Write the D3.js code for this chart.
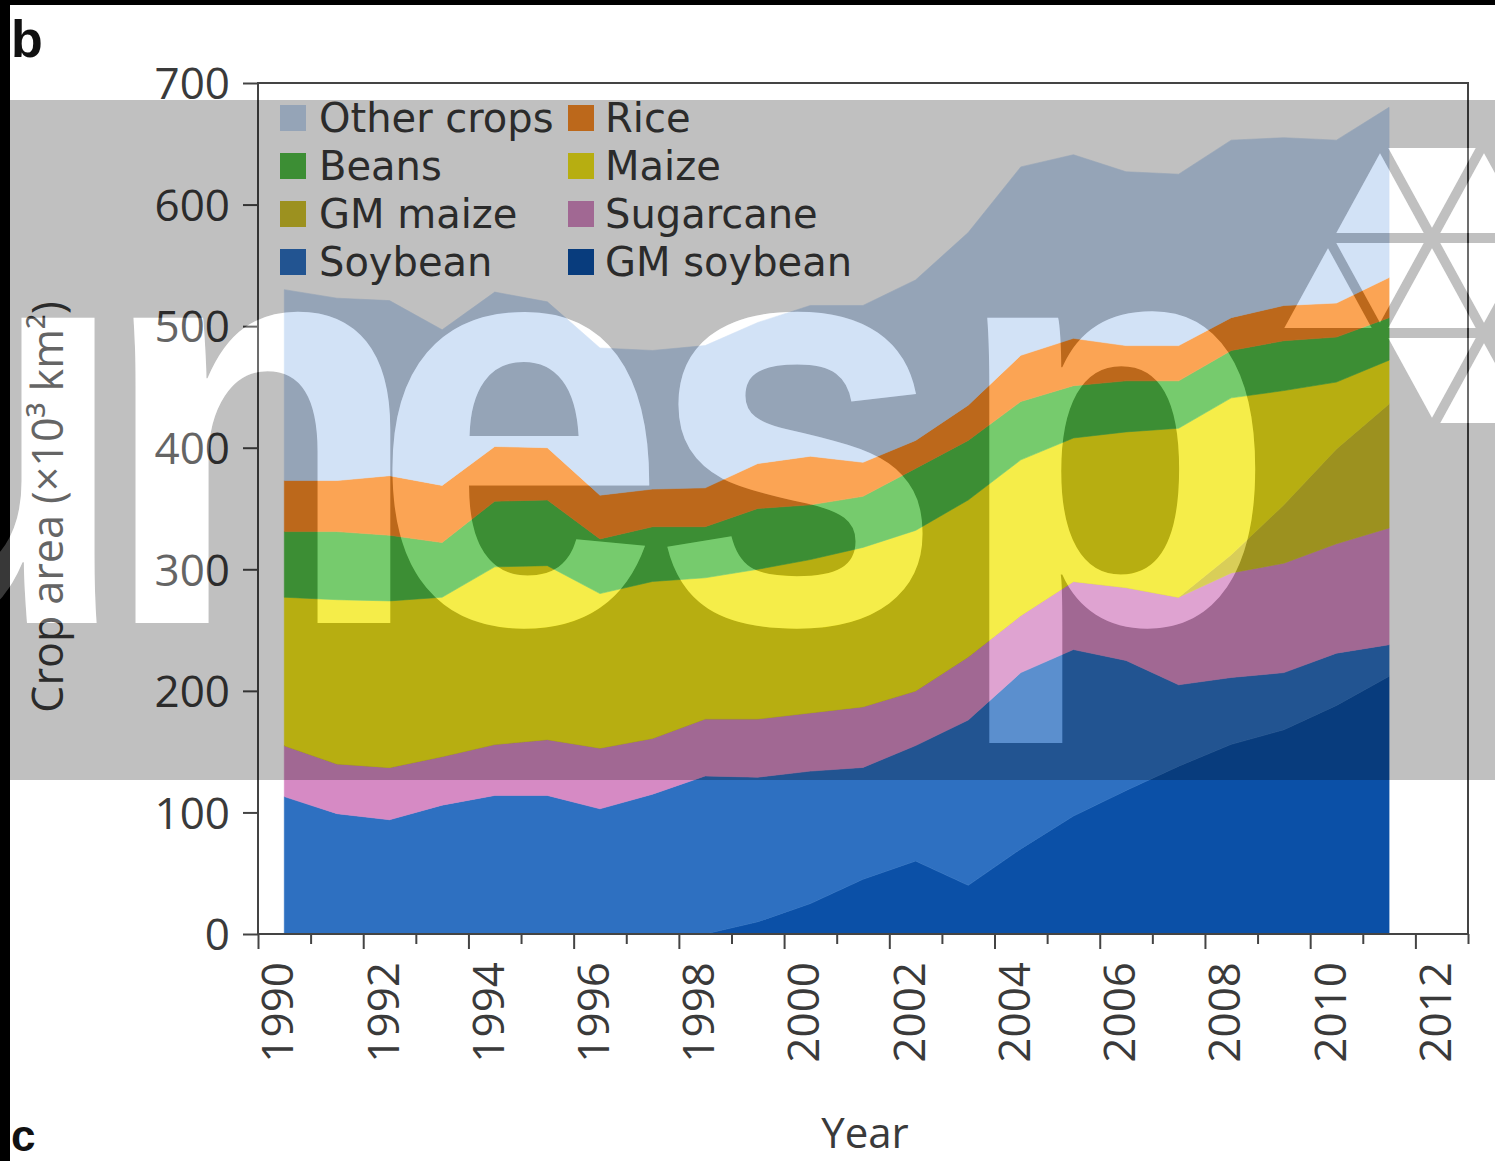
<!DOCTYPE html>
<html>
<head>
<meta charset="utf-8">
<script src="https://cdn.jsdelivr.net/npm/d3@7"></script>
<style>
html, body { margin: 0; padding: 0; background: #fff; }
svg { display: block; }
</style>
</head>
<body>
<svg id="chart" width="1495" height="1161"></svg>
<script>
// ---------------- data (x10^3 km^2) ----------------
const years = [1990,1991,1992,1993,1994,1995,1996,1997,1998,1999,2000,2001,2002,2003,2004,2005,2006,2007,2008,2009,2010,2011];
const gmSoybean  = [0,0,0,0,0,0,0,0,0,10,25,45,60,40,70,97,118,138,156,168,188,212];
const soybean    = [113,99,94,106,114,114,103,115,130,119,109,92,95,136,145,137,107,67,55,47,43,26];
const sugarcane  = [42,41,43,40,42,46,50,46,47,48,48,50,45,52,47,56,60,72,86,90,90,96];
const gmMaize    = [0,0,0,0,0,0,0,0,0,0,0,0,0,0,0,0,0,0,15,48,78,102];
const maize      = [122,135,137,131,146,143,127,129,116,123,126,131,132,129,128,118,128,139,129,94,55,36];
const beans      = [54,56,54,45,54,54,45,45,42,50,45,42,51,49,48,43,42,39,39,41,37,35];
const rice       = [42,42,49,47,45,43,36,31,32,37,40,28,23,29,38,39,29,29,27,29,28,33];
const otherCrops = [157,150,144,128,127,120,121,114,117,116,124,129,132,142,155,151,143,141,146,138,134,140];

const stackKeys   = ["GM soybean","Soybean","Sugarcane","GM maize","Maize","Beans","Rice","Other crops"];
const stackValues = [gmSoybean, soybean, sugarcane, gmMaize, maize, beans, rice, otherCrops];
const stackColors = ["#0b50a7","#2e70c1","#d68ac4","#cfc12a","#f3e817","#50bd45","#fa8b25","#c6daf4"];
const legendCol1  = ["Other crops","Beans","GM maize","Soybean"];
const legendCol2  = ["Rice","Maize","Sugarcane","GM soybean"];
const yTickValues = [0,100,200,300,400,500,600,700];
const xTickValues = d3.range(1990, 2014);
const xLabelYears = d3.range(1990, 2013, 2);
const watermarkLetters = ["u","n","e","s","p"];

// ---------------- setup ----------------
const W = 1495, H = 1161;
const svg = d3.select("#chart");
const FONT = "'Open Sans', 'DejaVu Sans', sans-serif";
const LEGEND_FONT = "'DejaVu Sans', 'Open Sans', sans-serif";
const TXT = "#3a3a3a";
const x = d3.scaleLinear().domain([1990, 2013]).range([258, 1468]);
const y = d3.scaleLinear().domain([0, 700]).range([934, 83]);
const color = d3.scaleOrdinal().domain(stackKeys).range(stackColors);

const rows = years.map((yr, i) => {
  const r = { year: yr };
  stackKeys.forEach((k, j) => r[k] = stackValues[j][i]);
  return r;
});
const stacked = d3.stack().keys(stackKeys)(rows);

// ---------------- areas ----------------
const area = d3.area()
  .x(d => x(d.data.year + 0.5))
  .y0(d => y(d[0]))
  .y1(d => y(d[1]));

svg.append("g").selectAll("path")
  .data(stacked).join("path")
  .attr("d", area)
  .attr("fill", d => color(d.key))
  .attr("stroke", d => color(d.key))
  .attr("stroke-width", 0.6);

// ---------------- axes ----------------
const xAxis = svg.append("g")
  .attr("transform", `translate(0,${y(0)})`)
  .call(d3.axisBottom(x).tickValues(xTickValues).tickSize(15).tickFormat(""));
xAxis.select(".domain").remove();
xAxis.selectAll(".tick line")
  .attr("stroke", "#444").attr("stroke-width", 2)
  .attr("y2", d => (d % 2 === 0 && d < 2013) ? 15 : 10);

svg.append("g").selectAll("text")
  .data(xLabelYears).join("text")
  .attr("transform", d => `translate(${x(d) + 20},962) rotate(-90)`)
  .attr("text-anchor", "end")
  .attr("dy", "0.35em")
  .attr("font-family", FONT).attr("font-size", 44).attr("fill", TXT)
  .text(d => d);

const yAxis = svg.append("g")
  .attr("transform", `translate(${x(1990)},0)`)
  .call(d3.axisLeft(y).tickValues(yTickValues).tickSize(15).tickPadding(13));
yAxis.select(".domain").remove();
yAxis.selectAll(".tick line").attr("stroke", "#444").attr("stroke-width", 2);
yAxis.selectAll(".tick text")
  .attr("font-family", FONT).attr("font-size", 44).attr("fill", TXT)
  .attr("dy", "0.36em");

// frame
svg.append("rect")
  .attr("x", x(1990)).attr("y", y(700))
  .attr("width", x(2013) - x(1990)).attr("height", y(0) - y(700))
  .attr("fill", "none").attr("stroke", "#444").attr("stroke-width", 2);

// axis titles
svg.append("text")
  .attr("x", 865).attr("y", 1148)
  .attr("text-anchor", "middle")
  .attr("font-family", FONT).attr("font-size", 42).attr("fill", TXT)
  .text("Year");
svg.append("text")
  .attr("transform", "translate(63,507) rotate(-90)")
  .attr("text-anchor", "middle")
  .attr("font-family", FONT).attr("font-size", 43).attr("fill", TXT)
  .text("Crop area (×10³ km²)");

// ---------------- legend ----------------
const legendRows = [132, 180, 228, 276];
function legendColumn(names, sx, tx) {
  const g = svg.append("g");
  names.forEach((n, i) => {
    g.append("rect")
      .attr("x", sx).attr("y", legendRows[i] - 27)
      .attr("width", 26).attr("height", 26)
      .attr("fill", color(n));
    g.append("text")
      .attr("x", tx).attr("y", legendRows[i])
      .attr("font-family", LEGEND_FONT).attr("font-size", 40).attr("fill", TXT)
      .text(n);
  });
}
legendColumn(legendCol1, 280, 319);
legendColumn(legendCol2, 568, 605);

// ---------------- page frame + panel letters ----------------
svg.append("rect").attr("x", 0).attr("y", 0).attr("width", W).attr("height", 5).attr("fill", "#000");
svg.append("rect").attr("x", 0).attr("y", 0).attr("width", 10).attr("height", H).attr("fill", "#000");
svg.append("text").attr("x", 11).attr("y", 57)
  .attr("font-family", "'Liberation Sans', Arial, sans-serif").attr("font-weight", "bold")
  .attr("font-size", 52).attr("fill", "#111").text("b");
svg.append("text").attr("x", 11).attr("y", 1151)
  .attr("font-family", "'Liberation Sans', Arial, sans-serif").attr("font-weight", "bold")
  .attr("font-size", 44).attr("fill", "#111").text("c");

// ---------------- watermark overlay (grey band + "unesp" mark) ----------------
const letterX = [-210, 107, 404, 705, 1035];
const triBase = [
  [[1380,143],[1328,238],[1432,238]],
  [[1380,143],[1484,143],[1432,238]],
  [[1484,143],[1432,238],[1536,238]],
  [[1328,238],[1276,333],[1380,333]],
  [[1328,238],[1432,238],[1380,333]],
  [[1432,238],[1380,333],[1484,333]],
  [[1432,238],[1536,238],[1484,333]],
  [[1380,333],[1484,333],[1432,428]],
  [[1484,333],[1432,428],[1536,428]]
];
const tris = triBase.map(t => {
  const cx = d3.mean(t, p => p[0]), cy = d3.mean(t, p => p[1]);
  return t.map(p => [cx + (p[0] - cx) * 0.84, cy + (p[1] - cy) * 0.84]);
});

const defs = svg.append("defs");
// one shared definition of the mark, reused for the band hole and the white overlay
const mark = defs.append("g").attr("id", "wmark");
const lg = mark.append("g").attr("transform", "scale(0.92,1)");
watermarkLetters.forEach((ch, i) => {
  lg.append("text")
    .attr("x", letterX[i]).attr("y", 623)
    .attr("font-family", "'Liberation Sans', Arial, sans-serif")
    .attr("font-weight", "bold").attr("font-size", 578)
    .text(ch);
});
mark.selectAll("polygon").data(tris).join("polygon")
  .attr("points", d => d.map(p => p.join(",")).join(" "));

const mask = defs.append("mask").attr("id", "bandMask")
  .attr("maskUnits", "userSpaceOnUse")
  .attr("x", 0).attr("y", 0).attr("width", W).attr("height", H);
mask.append("rect").attr("x", 0).attr("y", 0).attr("width", W).attr("height", H).attr("fill", "#fff");
mask.append("use").attr("href", "#wmark").attr("fill", "#000");

svg.append("rect")
  .attr("x", 0).attr("y", 100).attr("width", W).attr("height", 680)
  .attr("fill", "#000").attr("fill-opacity", 0.247)
  .attr("mask", "url(#bandMask)");
svg.append("use").attr("href", "#wmark").attr("fill", "#fff").attr("opacity", 0.22);
</script>
</body>
</html>
